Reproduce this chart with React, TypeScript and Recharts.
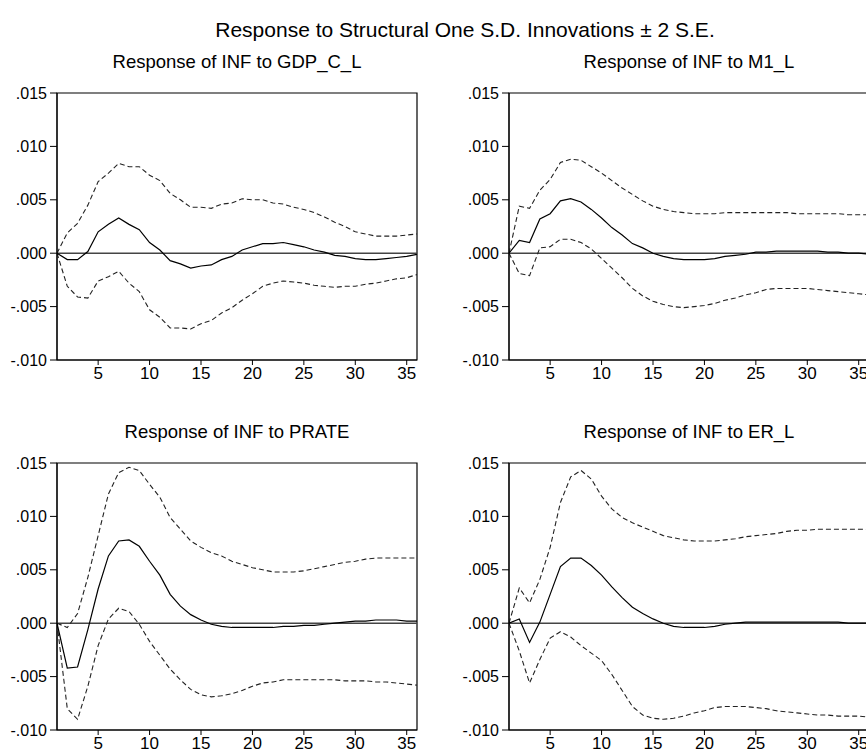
import React from 'react';
import { LineChart, Line, XAxis, YAxis, ReferenceLine, ReferenceArea } from 'recharts';

// periods of the impulse response
const PERIODS = [1, 2, 3, 4, 5, 6, 7, 8, 9, 10, 11, 12, 13, 14, 15, 16, 17, 18, 19, 20, 21, 22, 23, 24, 25, 26, 27, 28, 29, 30, 31, 32, 33, 34, 35, 36];

const GDP_RESP = [0, -0.0006, -0.0006, 0.00016, 0.002, 0.0027, 0.0033, 0.0027, 0.0022, 0.001, 0.0003, -0.0007, -0.001, -0.0014, -0.0012, -0.0011, -0.0006, -0.0003, 0.0003, 0.0006, 0.0009, 0.0009, 0.001, 0.0008, 0.0006, 0.0003, 0.0001, -0.0002, -0.0003, -0.0005, -0.0006, -0.0006, -0.0005, -0.0004, -0.0003, -0.0001];
const GDP_UP = [0, 0.0019, 0.0028, 0.0045, 0.0067, 0.0075, 0.0084, 0.0081, 0.0081, 0.0073, 0.0068, 0.0056, 0.005, 0.0043, 0.0043, 0.0042, 0.0046, 0.0047, 0.0051, 0.005, 0.005, 0.0047, 0.0046, 0.0043, 0.0041, 0.0038, 0.0034, 0.0029, 0.0025, 0.002, 0.0018, 0.0016, 0.0016, 0.0016, 0.0017, 0.0018];
const GDP_LO = [0, -0.0031, -0.0041, -0.0042, -0.0026, -0.0022, -0.0017, -0.0028, -0.0036, -0.0053, -0.006, -0.007, -0.007, -0.0071, -0.0066, -0.0063, -0.0056, -0.0051, -0.0044, -0.0038, -0.0031, -0.0028, -0.0026, -0.0027, -0.0028, -0.003, -0.0031, -0.0032, -0.0031, -0.0031, -0.0029, -0.0028, -0.0026, -0.0024, -0.0023, -0.002];

const M1_RESP = [0, 0.0012, 0.001, 0.0032, 0.0037, 0.0049, 0.0051, 0.0048, 0.0041, 0.0033, 0.0024, 0.0017, 0.0009, 0.0005, 0, -0.0003, -0.0005, -0.0006, -0.0006, -0.0006, -0.0005, -0.0003, -0.0002, -0.0001, 0.0001, 0.0001, 0.0002, 0.0002, 0.0002, 0.0002, 0.0002, 0.0001, 0.0001, 0, 0, -0.0001];
const M1_UP = [0, 0.0044, 0.0042, 0.0059, 0.0069, 0.0085, 0.0088, 0.0087, 0.0081, 0.0075, 0.0068, 0.0061, 0.0055, 0.0049, 0.0044, 0.0041, 0.0039, 0.0038, 0.0037, 0.0037, 0.0037, 0.0038, 0.0038, 0.0038, 0.0038, 0.0038, 0.0038, 0.0038, 0.0037, 0.0037, 0.0037, 0.0037, 0.0037, 0.0036, 0.0036, 0.0036];
const M1_LO = [0, -0.0019, -0.0021, 0.0005, 0.0006, 0.0013, 0.0013, 0.001, 0.0004, -0.0005, -0.0014, -0.0023, -0.0033, -0.004, -0.0045, -0.0048, -0.005, -0.0051, -0.005, -0.0049, -0.0047, -0.0044, -0.0042, -0.0039, -0.0037, -0.0034, -0.0033, -0.0033, -0.0033, -0.0033, -0.0034, -0.0035, -0.0036, -0.0037, -0.0038, -0.0039];

const PRATE_RESP = [0, -0.0042, -0.0041, -0.0006, 0.0032, 0.0063, 0.0077, 0.0078, 0.0072, 0.0058, 0.0045, 0.0027, 0.0016, 0.0008, 0.0003, -0.0001, -0.0003, -0.0004, -0.0004, -0.0004, -0.0004, -0.0004, -0.0003, -0.0003, -0.0002, -0.0002, -0.0001, 0, 0.0001, 0.0002, 0.0002, 0.0003, 0.0003, 0.0003, 0.0002, 0.0002];
const PRATE_UP = [0, -0.0004, 0.0009, 0.0043, 0.0082, 0.0121, 0.0141, 0.0146, 0.0143, 0.013, 0.0118, 0.0099, 0.0088, 0.0077, 0.0071, 0.0066, 0.0063, 0.0058, 0.0055, 0.0052, 0.005, 0.0048, 0.0048, 0.0048, 0.0049, 0.0051, 0.0053, 0.0055, 0.0057, 0.0058, 0.006, 0.0061, 0.0061, 0.0061, 0.0061, 0.0061];
const PRATE_LO = [0, -0.008, -0.009, -0.0059, -0.0021, 0.0004, 0.0014, 0.0011, -0.0001, -0.0017, -0.003, -0.0043, -0.0053, -0.0062, -0.0067, -0.0069, -0.0068, -0.0066, -0.0063, -0.0059, -0.0056, -0.0055, -0.0053, -0.0053, -0.0053, -0.0053, -0.0053, -0.0053, -0.0054, -0.0054, -0.0054, -0.0055, -0.0055, -0.0056, -0.0057, -0.0058];

const ER_RESP = [0, 0.0004, -0.0018, 0.0001, 0.0027, 0.0053, 0.0061, 0.0061, 0.0054, 0.0045, 0.0034, 0.0024, 0.0015, 0.0009, 0.0004, 0, -0.0003, -0.0004, -0.0004, -0.0004, -0.0003, -0.0001, 0, 0.0001, 0.0001, 0.0001, 0.0001, 0.0001, 0.0001, 0.0001, 0.0001, 0.0001, 0.0001, 0, 0, 0];
const ER_UP = [0, 0.0033, 0.0019, 0.0041, 0.0071, 0.0113, 0.0137, 0.0143, 0.0135, 0.0119, 0.0107, 0.0099, 0.0094, 0.009, 0.0086, 0.0082, 0.008, 0.0078, 0.0077, 0.0077, 0.0077, 0.0078, 0.0079, 0.0081, 0.0082, 0.0083, 0.0084, 0.0086, 0.0087, 0.0087, 0.0088, 0.0088, 0.0088, 0.0088, 0.0088, 0.0088];
const ER_LO = [0, -0.0026, -0.0056, -0.0034, -0.0014, -0.0008, -0.0013, -0.0021, -0.0028, -0.0035, -0.0048, -0.0063, -0.0078, -0.0086, -0.0089, -0.009, -0.0089, -0.0087, -0.0084, -0.0082, -0.0079, -0.0078, -0.0078, -0.0078, -0.0079, -0.008, -0.0082, -0.0083, -0.0084, -0.0085, -0.0086, -0.0086, -0.0087, -0.0087, -0.0087, -0.0088];

const Y_TICKS = [-0.01, -0.005, 0, 0.005, 0.01, 0.015];
const X_TICKS = [5, 10, 15, 20, 25, 30, 35];

const FONT = '"Liberation Sans", Arial, sans-serif';

const panels = [
  { title: 'Response of INF to GDP_C_L', resp: GDP_RESP, up: GDP_UP, lo: GDP_LO, left: 0, top: 83 },
  { title: 'Response of INF to M1_L', resp: M1_RESP, up: M1_UP, lo: M1_LO, left: 452, top: 83 },
  { title: 'Response of INF to PRATE', resp: PRATE_RESP, up: PRATE_UP, lo: PRATE_LO, left: 0, top: 453 },
  { title: 'Response of INF to ER_L', resp: ER_RESP, up: ER_UP, lo: ER_LO, left: 452, top: 453 },
];

// eviews style labels: .015, -.010
const fmtY = (v: number) => {
  const s = Math.abs(v).toFixed(3).replace(/^0/, '');
  return v < -1e-9 ? '-' + s : s;
};

function Panel({ p }: { p: any }) {
  const data = PERIODS.map((t, i) => ({ t, resp: p.resp[i], up: p.up[i], lo: p.lo[i] }));
  return (
    <div style={{ position: 'absolute', left: p.left, top: p.top }}>
      <LineChart width={422} height={307} data={data} margin={{ top: 10, right: 5, bottom: 0, left: 0 }}>
        <XAxis
          dataKey="t"
          type="number"
          domain={[1, 36]}
          ticks={X_TICKS}
          tickSize={5}
          tickMargin={2}
          height={30}
          stroke="#000"
          tick={{ fill: '#000', fontSize: 17, fontFamily: FONT }}
          allowDataOverflow
        />
        <YAxis
          type="number"
          domain={[-0.01, 0.015]}
          ticks={Y_TICKS}
          tickFormatter={fmtY}
          tickSize={7}
          tickMargin={3}
          width={57}
          stroke="#000"
          tick={{ fill: '#000', fontSize: 16, fontFamily: FONT }}
          allowDataOverflow
        />
        <ReferenceArea x1={1} x2={36} y1={-0.01} y2={0.015} fill="none" stroke="#000" strokeWidth={1.2} ifOverflow="visible" />
        <ReferenceLine y={0} stroke="#444" strokeWidth={1.4} />
        <Line dataKey="up" type="linear" stroke="#222" strokeWidth={1.1} strokeDasharray="5 3" dot={false} isAnimationActive={false} />
        <Line dataKey="lo" type="linear" stroke="#222" strokeWidth={1.1} strokeDasharray="5 3" dot={false} isAnimationActive={false} />
        <Line dataKey="resp" type="linear" stroke="#000" strokeWidth={1.2} dot={false} isAnimationActive={false} />
      </LineChart>
    </div>
  );
}

export default function App() {
  return (
    <div style={{ position: 'absolute', left: 0, top: 0, width: 866, height: 755, overflow: 'hidden', background: '#fff', fontFamily: FONT }}>
      {panels.map((p) => (
        <Panel key={p.title} p={p} />
      ))}
      <svg width={866} height={755} style={{ position: 'absolute', left: 0, top: 0, pointerEvents: 'none' }}>
        <text x={465} y={37} textAnchor="middle" fontSize={21} fontFamily={FONT} fill="#000">
          Response to Structural One S.D. Innovations ± 2 S.E.
        </text>
        {panels.map((p) => (
          <text key={p.title} x={p.left + 57 + 180} y={p.top - 15} textAnchor="middle" fontSize={18.5} fontFamily={FONT} fill="#000">
            {p.title}
          </text>
        ))}
      </svg>
    </div>
  );
}
